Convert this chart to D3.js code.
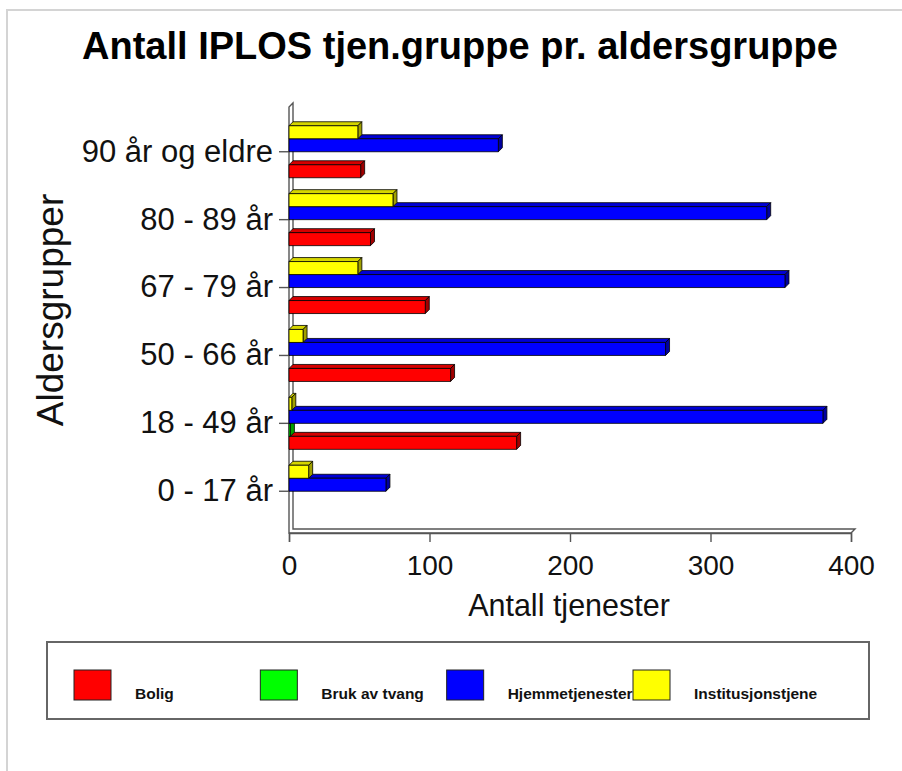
<!DOCTYPE html>
<html>
<head>
<meta charset="utf-8">
<script src="https://cdn.jsdelivr.net/npm/d3@7"></script>
<style>
  body { margin: 0; background: #fff; }
  svg { display: block; font-family: 'Liberation Sans', Arial, sans-serif; }
</style>
</head>
<body>
<script>
// data
var categories = ['90 år og eldre', '80 - 89 år', '67 - 79 år', '50 - 66 år', '18 - 49 år', '0 - 17 år'];
var seriesNames = ['Bolig', 'Bruk av tvang', 'Hjemmetjenester', 'Institusjonstjene'];
var seriesColors = ['#ff0000', '#00ff00', '#0000ff', '#ffff00'];
var bolig = [51, 58, 97, 115, 162, 0];
var brukAvTvang = [0, 0, 0, 0, 1, 0];
var hjemmetjenester = [149, 340, 353, 268, 380, 69];
var institusjon = [49, 74, 49, 10, 2, 14];
var xTicks = [0, 100, 200, 300, 400];

var seriesValues = [bolig, brukAvTvang, hjemmetjenester, institusjon];

var width = 902, height = 771;
var depth = 4;

var svg = d3.select('body').append('svg')
    .attr('width', width)
    .attr('height', height);

// frame
svg.append('path')
    .attr('d', 'M7,771 L7,10 L902,10')
    .attr('fill', 'none')
    .attr('stroke', '#d4d4d4')
    .attr('stroke-width', 2);

// title
svg.append('text')
    .attr('x', 460)
    .attr('y', 59)
    .attr('text-anchor', 'middle')
    .attr('font-size', 38)
    .attr('font-weight', 'bold')
    .text('Antall IPLOS tjen.gruppe pr. aldersgruppe');

// scales
var x = d3.scaleLinear().domain([0, 400]).range([289, 851]);
var y = d3.scaleBand().domain(categories).range([117.8, 525.2]).padding(0);
var groupH = 52;
var ySub = d3.scaleBand()
    .domain(seriesNames.slice().reverse())
    .range([(y.bandwidth() - groupH) / 2, (y.bandwidth() + groupH) / 2]);

var floorY = 533;

// wall and floor (3d look)
var wall = svg.append('g').attr('fill', 'none').attr('stroke', '#555').attr('stroke-width', 1.4);
wall.append('path')
    .attr('d', 'M' + x(0) + ',' + floorY + ' L' + x(0) + ',107 L' + (x(0) + depth) + ',103 L' + (x(0) + depth) + ',' + (floorY - depth)
        + ' L' + (x(400) + depth) + ',' + (floorY - depth) + ' L' + x(400) + ',' + floorY + ' Z');

// x axis
var xAxis = d3.axisBottom(x)
    .tickValues(xTicks)
    .tickSize(9)
    .tickPadding(13)
    .tickFormat(d3.format('d'));

var gx = svg.append('g')
    .attr('transform', 'translate(0,' + floorY + ')')
    .call(xAxis);
gx.select('.domain').attr('stroke', '#555').attr('stroke-width', 1.4);
gx.selectAll('.tick line').attr('stroke', '#555').attr('stroke-width', 1.4);
gx.selectAll('.tick text').attr('font-size', 28).attr('fill', '#111').attr('font-family', 'Liberation Sans, Arial, sans-serif');

// y axis
var yAxis = d3.axisLeft(y)
    .tickSize(10)
    .tickPadding(6);
var gy = svg.append('g')
    .attr('transform', 'translate(' + x(0) + ',0)')
    .call(yAxis);
gy.select('.domain').remove();
gy.selectAll('.tick line').attr('stroke', '#555').attr('stroke-width', 1.4);
gy.selectAll('.tick text').attr('font-size', 31).attr('fill', '#111').attr('font-family', 'Liberation Sans, Arial, sans-serif');

// axis titles
svg.append('text')
    .attr('x', 569)
    .attr('y', 616)
    .attr('text-anchor', 'middle')
    .attr('font-size', 30.5)
    .attr('fill', '#111')
    .text('Antall tjenester');

svg.append('text')
    .attr('transform', 'translate(63,310) rotate(-90)')
    .attr('text-anchor', 'middle')
    .attr('font-size', 37)
    .attr('fill', '#111')
    .text('Aldersgrupper');

// bars
var bars = svg.append('g');
categories.forEach(function (cat, ci) {
    seriesNames.forEach(function (name, si) {
        var v = seriesValues[si][ci];
        if (!v) return;
        var c = seriesColors[si];
        var x0 = x(0), x1 = x(v);
        var y0 = y(cat) + ySub(name);
        var h = ySub.bandwidth();
        var g = bars.append('g')
            .attr('stroke', '#000')
            .attr('stroke-width', 0.8)
            .attr('stroke-linejoin', 'round');
        // top face
        g.append('path')
            .attr('d', 'M' + x0 + ',' + y0 + ' L' + (x0 + depth) + ',' + (y0 - depth) + ' L' + (x1 + depth) + ',' + (y0 - depth) + ' L' + x1 + ',' + y0 + ' Z')
            .attr('fill', d3.color(c).darker(0.5));
        // side face
        g.append('path')
            .attr('d', 'M' + x1 + ',' + y0 + ' L' + (x1 + depth) + ',' + (y0 - depth) + ' L' + (x1 + depth) + ',' + (y0 + h - depth) + ' L' + x1 + ',' + (y0 + h) + ' Z')
            .attr('fill', d3.color(c).darker(1.3));
        // front face
        g.append('rect')
            .attr('x', x0)
            .attr('y', y0)
            .attr('width', x1 - x0)
            .attr('height', h)
            .attr('fill', c);
    });
});

// legend
var legend = svg.append('g');
legend.append('rect')
    .attr('x', 47)
    .attr('y', 642)
    .attr('width', 822)
    .attr('height', 77)
    .attr('fill', '#fff')
    .attr('stroke', '#666')
    .attr('stroke-width', 2);

var lx = d3.scalePoint().domain(seriesNames).range([74, 633]);
var items = legend.selectAll('.item')
    .data(seriesNames)
    .enter().append('g')
    .attr('class', 'item')
    .attr('transform', function (d) { return 'translate(' + lx(d) + ',670)'; });
items.append('rect')
    .attr('width', 37)
    .attr('height', 30)
    .attr('fill', function (d, i) { return seriesColors[i]; })
    .attr('stroke', '#222')
    .attr('stroke-width', 1);
items.append('text')
    .attr('x', 61)
    .attr('y', 29)
    .attr('font-size', 15.5)
    .attr('font-weight', 'bold')
    .attr('fill', '#111')
    .text(function (d) { return d; });
</script>
</body>
</html>
